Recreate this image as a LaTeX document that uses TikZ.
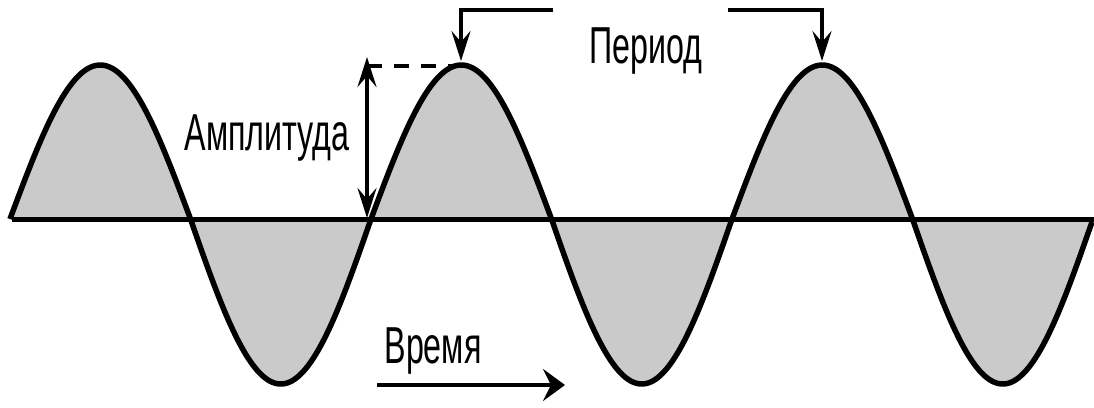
\documentclass[tikz,border=0pt]{standalone}
\usepackage{fontspec}
\newfontfamily\lab[FakeStretch=0.62]{Liberation Sans}
\usetikzlibrary{arrows.meta}
\definecolor{lobe}{HTML}{CACACA}
\tikzset{
  wave/.style={line width=5.5pt, line join=round},
  axisline/.style={line width=5pt},
  lbl/.style={font=\lab\fontsize{52}{60}\selectfont, inner sep=0pt, anchor=base},
  arr/.style={line width=3.5pt, -{Stealth[length=30pt,width=19pt,inset=11pt]}},
  dbl/.style={line width=3.5pt, {Stealth[length=30pt,width=19pt,inset=11pt]}-{Stealth[length=30pt,width=19pt,inset=11pt]}},
  timearr/.style={line width=4pt, -{Stealth[length=22pt,width=32pt,inset=8pt]}},
  dashline/.style={line width=3.5pt, dash pattern=on 15pt off 12pt}
}
\begin{document}
\begin{tikzpicture}[x=1pt,y=-1pt,
  declare function={ph(\t)=(\t-10)*0.99723; wv(\t)=(sin(ph(\t))>0) ? 154*sin(ph(\t)) : 165*sin(ph(\t));}]
\useasboundingbox (0,0) rectangle (1094,407);
% gray lobes
\fill[lobe] plot[domain=10:1092,samples=500] (\x,{219-wv(\x)}) -- (1092,219) -- cycle;
% axis
\coordinate (axL) at (12,219);
\coordinate (axR) at (1094,219);
\draw[axisline] (axL) -- (axR);
% wave
\draw[wave] plot[domain=10:1092,samples=500] (\x,{219-wv(\x)});
% coordinates
\coordinate (pk2) at (461,61);
\coordinate (pk3) at (822,61);
\coordinate (brL) at (553,10);
\coordinate (brR) at (728,10);
\coordinate (ampB) at (367,218);
\coordinate (ampT) at (367,57);
\coordinate (dashA) at (367,66);
\coordinate (dashB) at (457,66);
\coordinate (tA) at (377,385);
\coordinate (tB) at (565,385);
% period bracket
\draw[arr] (brL) -| (pk2);
\draw[arr] (brR) -| (pk3);
% amplitude
\draw[dbl] (ampB) -- (ampT);
\draw[dashline] (dashA) -- (dashB);
% time
\draw[timearr] (tA) -- (tB);
% labels
\node[lbl] (period) at (646,63) {Период};
\node[lbl] (ampl) at (267,150) {Амплитуда};
\node[lbl] (time) at (433,363) {Время};
\end{tikzpicture}
\end{document}
